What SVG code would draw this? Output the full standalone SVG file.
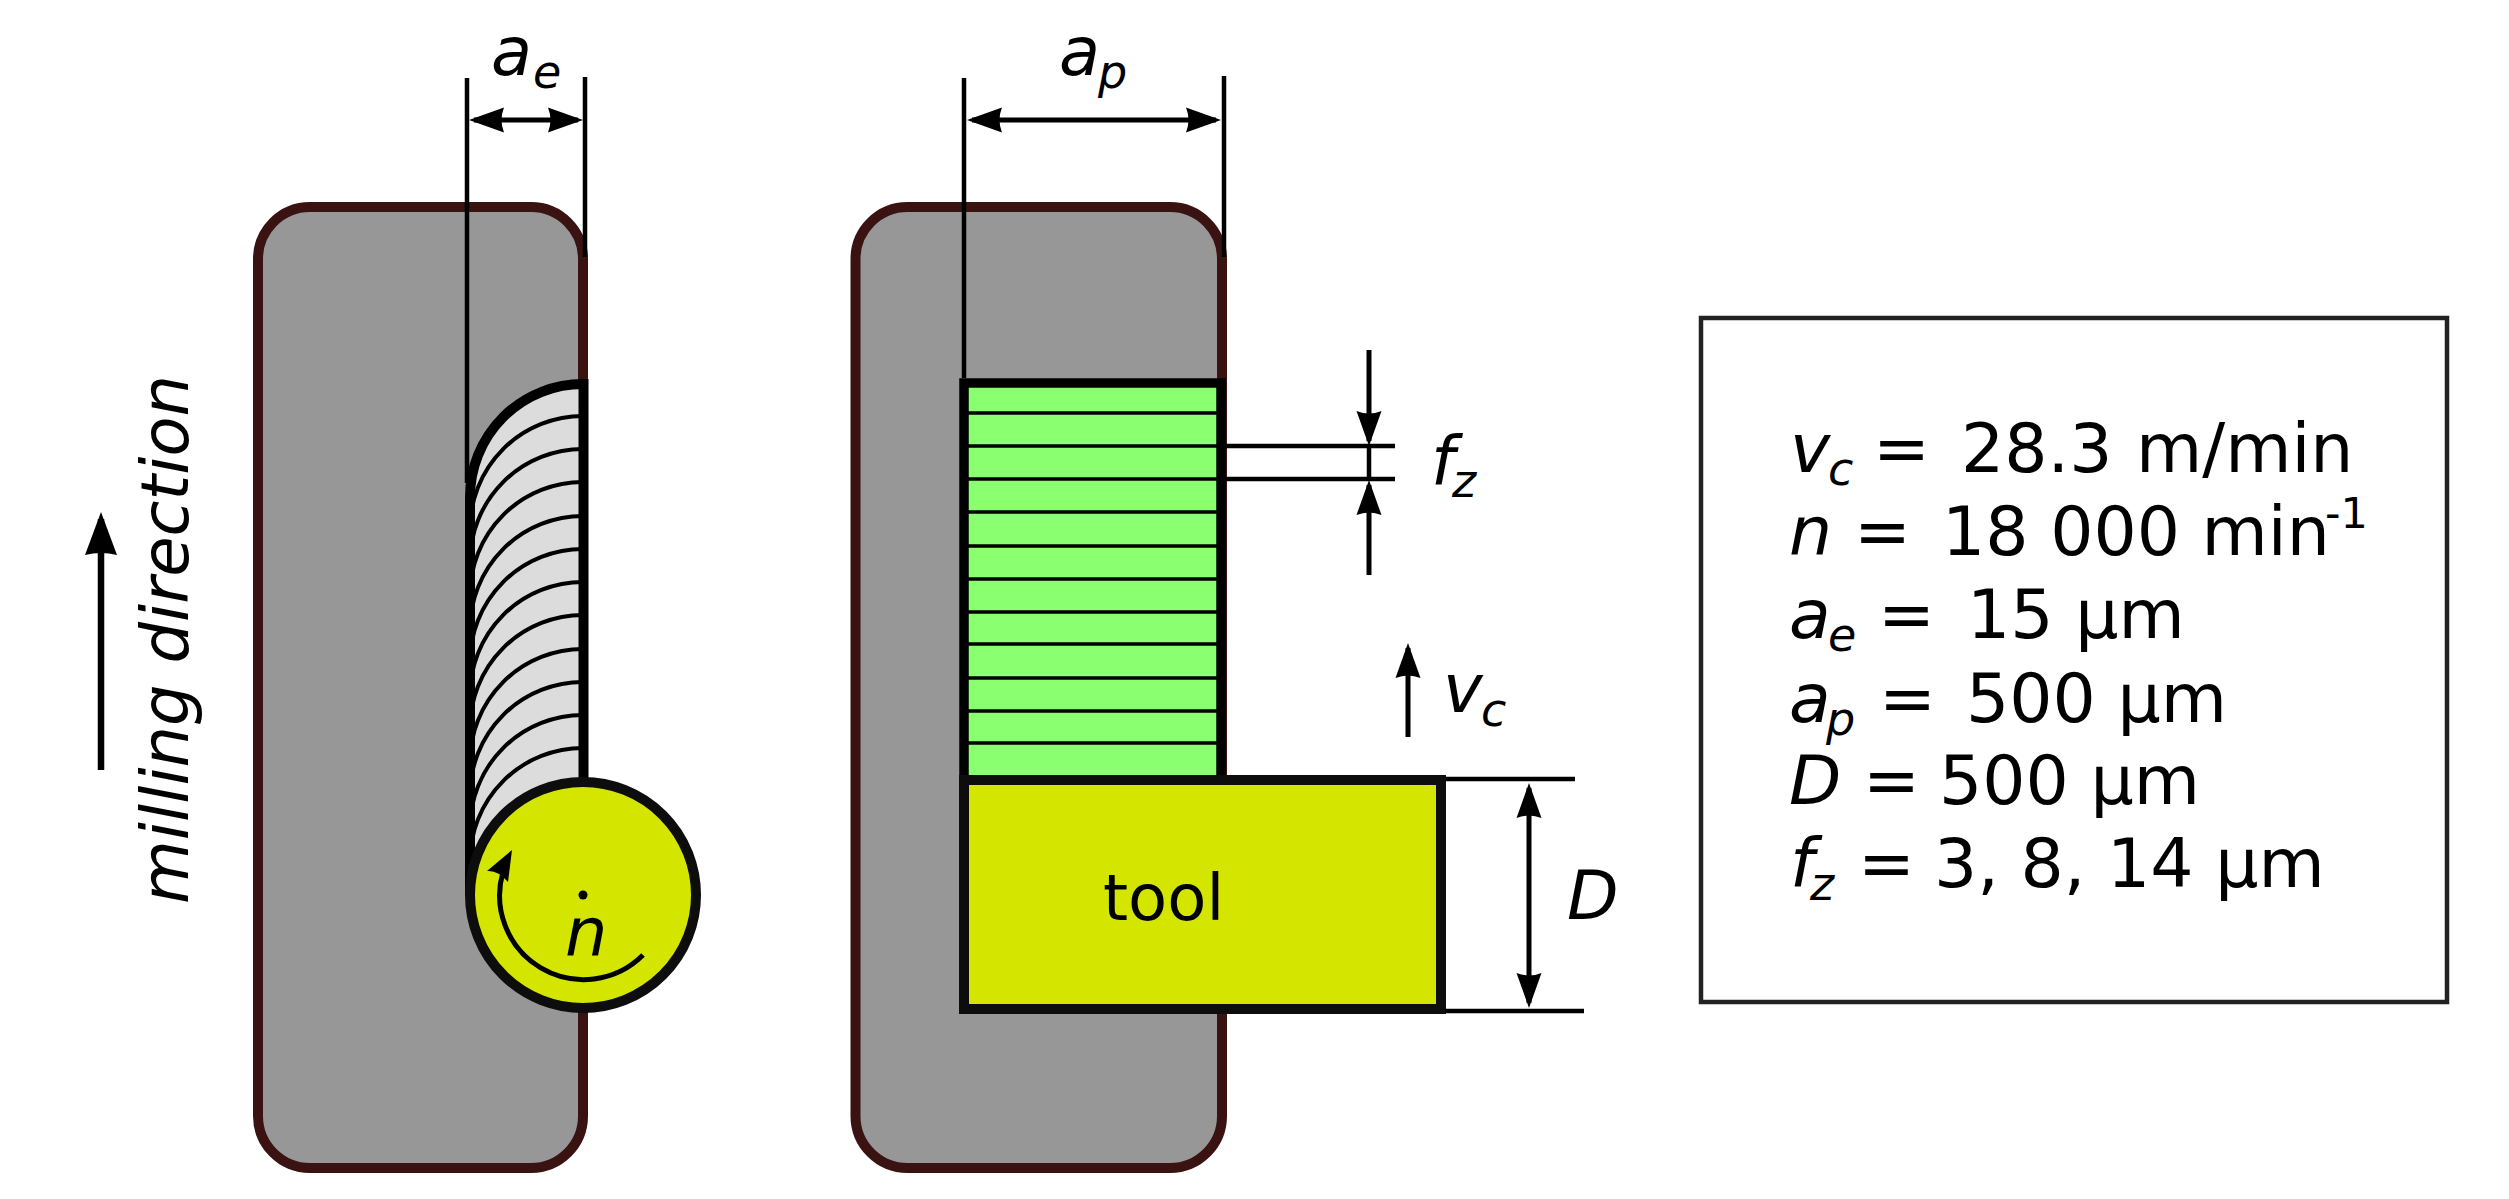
<svg xmlns="http://www.w3.org/2000/svg" width="2509" height="1199" viewBox="0 0 2509 1199">
<style>
text{font-family:"DejaVu Sans","Liberation Sans",sans-serif;font-size:67px;fill:#000}
.i{font-style:italic}
.s{font-size:46px;font-style:italic}
.t text{font-size:68px}
.t .s{font-size:46px}
.block{fill:#979797;stroke:#3b1212;stroke-width:10}
.ln{fill:none;stroke:#000;stroke-width:4.500}
.ar{fill:none;stroke:#000;stroke-width:5}
.cut{fill:none;stroke:#000;stroke-width:4}
.thick{stroke:#000;stroke-width:10}
.tool{fill:#d4e600;stroke:#0d0d0d;stroke-width:10}
</style>
<defs>
<marker id="h" markerUnits="userSpaceOnUse" markerWidth="40" markerHeight="30" refX="30" refY="15" orient="auto-start-reverse" viewBox="0 0 40 30">
<path d="M35,15 L0,2.500 Q5,15 0,27.500 Z" fill="#000"/>
</marker>
<marker id="H" markerUnits="userSpaceOnUse" markerWidth="50" markerHeight="40" refX="36" refY="20" orient="auto" viewBox="0 0 50 40">
<path d="M43,20 L0,4 Q4,20 0,36 Z" fill="#000"/>
</marker>
</defs>
<rect width="2509" height="1199" fill="#fff"/>
<g id="workpiece-left"><rect class="block" x="258" y="207" width="325" height="961" rx="52" ry="52"/></g>
<g id="workpiece-right"><rect class="block" x="855.500" y="207" width="366.500" height="961" rx="52" ry="52"/></g>
<g id="chip-marks">
<path d="M583,384 A113,113 0 0 0 470,497 V895 L583,895 Z" fill="#dcdcdc"/>
<path class="cut" d="M583,416 a113,113 0 0 0 -113,113 M583,449 a113,113 0 0 0 -113,113 M583,482 a113,113 0 0 0 -113,113 M583,516 a113,113 0 0 0 -113,113 M583,549 a113,113 0 0 0 -113,113 M583,582 a113,113 0 0 0 -113,113 M583,615 a113,113 0 0 0 -113,113 M583,649 a113,113 0 0 0 -113,113 M583,682 a113,113 0 0 0 -113,113 M583,715 a113,113 0 0 0 -113,113 M583,748 a113,113 0 0 0 -113,113"/>
<path class="thick" fill="none" d="M583.500,780 V384 A113,113 0 0 0 470,497 V895"/>
</g>
<g id="green-surface">
<rect x="964" y="383" width="257" height="397" fill="#8aff70" stroke="#000" stroke-width="9.500"/>
<path stroke="#000" stroke-width="3.500" d="M968,413H1217M968,446H1217M968,479H1217M968,512H1217M968,546H1217M968,579H1217M968,612H1217M968,644H1217M968,678H1217M968,711H1217M968,743H1217"/>
</g>
<g id="tool-left">
<circle class="tool" cx="583" cy="895" r="113"/>
<circle cx="583" cy="895" r="4.500" fill="#000"/>
</g>
<g id="tool-right"><rect class="tool" x="964" y="780" width="477" height="229"/>
<text x="1103" y="920" style="font-size:64px">tool</text></g>
<g id="connectors">
<path class="ln" d="M467,78V483M585,77V257M964,78V378M1224,76V257M1225,446H1395M1225,479H1395M1445,779H1575M1445,1011H1584M1369,446V480"/>
<path class="ar" d="M474,120H578" marker-start="url(#h)" marker-end="url(#h)"/>
<path class="ar" d="M972,120H1216" marker-start="url(#h)" marker-end="url(#h)"/>
<path class="ar" d="M1369,350V441" marker-end="url(#h)"/>
<path class="ar" d="M1369,575V485" marker-end="url(#h)"/>
<path class="ar" d="M1408,737V648" marker-end="url(#h)"/>
<path class="ar" d="M1529,788V1003" marker-start="url(#h)" marker-end="url(#h)"/>
<path class="ar" style="stroke-width:6.500" d="M101,770V519" marker-end="url(#H)"/>
<path class="ar" d="M643,955 A84,84 0 0 1 503,872"/>
<path d="M512,850 L487,871 Q498,870 508,882 Z" fill="#000"/>
</g>
<g id="labels">
<text class="i" x="565" y="956">n</text>
<text class="i" x="491" y="75">a<tspan class="s" x="533" y="88">e</tspan></text>
<text class="i" x="1059" y="75">a<tspan class="s" x="1098" y="88">p</tspan></text>
<text class="i" x="1431" y="485">f<tspan class="s" x="1452" y="497">z</tspan></text>
<text class="i" x="1443" y="712">v<tspan class="s" x="1481" y="726">c</tspan></text>
<text class="i" x="1567" y="919">D</text>
<text class="i" transform="translate(188,904) rotate(-90)" x="0" y="0" style="font-size:65.500px">milling direction</text>
</g>
<g id="parameters" class="t">
<rect x="1701" y="318" width="746" height="684" fill="#fff" stroke="#222" stroke-width="4.500"/>
<text y="472"><tspan class="i" x="1790">v</tspan><tspan class="s" x="1828" y="485">c</tspan><tspan x="1873" y="472">=</tspan><tspan x="1961">28.3</tspan><tspan x="2136">m/min</tspan></text>
<text y="555"><tspan class="i" x="1789">n</tspan><tspan x="1854">=</tspan><tspan x="1942">18 000 min</tspan><tspan x="2325" y="528" style="font-size:43px">-1</tspan></text>
<text y="638"><tspan class="i" x="1789">a</tspan><tspan class="s" x="1828" y="651">e</tspan><tspan x="1878" y="638">=</tspan><tspan x="1967">15 µm</tspan></text>
<text y="722"><tspan class="i" x="1789">a</tspan><tspan class="s" x="1826" y="735">p</tspan><tspan x="1879" y="722">=</tspan><tspan x="1966">500 µm</tspan></text>
<text y="804"><tspan class="i" x="1789">D</tspan><tspan x="1863">=</tspan><tspan x="1939">500 µm</tspan></text>
<text y="887"><tspan class="i" x="1790">f</tspan><tspan class="s" x="1810" y="900">z</tspan><tspan x="1858" y="887">=</tspan><tspan x="1934">3, 8, 14 µm</tspan></text>
</g>
</svg>
